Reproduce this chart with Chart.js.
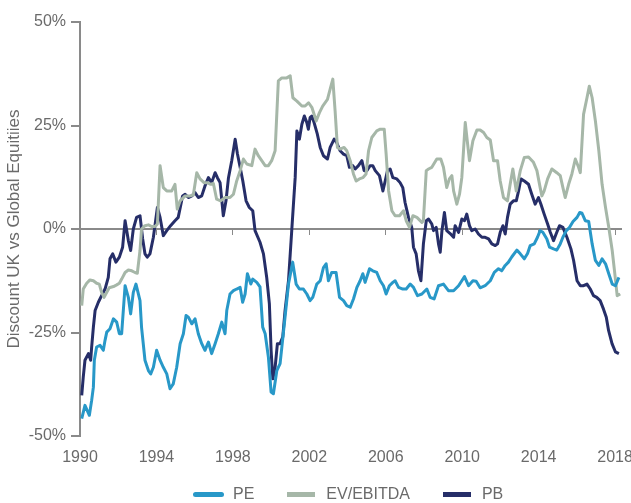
<!DOCTYPE html>
<html>
<head>
<meta charset="utf-8">
<script src="https://cdn.jsdelivr.net/npm/chart.js@4.4.1/dist/chart.umd.min.js"></script>
<style>
  html, body { margin: 0; padding: 0; background: #ffffff; }
  #chart_wrap { width: 631px; height: 503px; position: relative; }
  #chart_legend {
    position: absolute; left: 193px; top: 485px; height: 18px;
    display: flex; align-items: center;
    font-family: 'Liberation Sans', Arial, sans-serif; font-size: 16px; color: #6a6a6a;
  }
  #chart_legend .item { display: flex; align-items: center; margin-right: 33px; }
  #chart_legend .swatch { width: 28px; height: 5px; margin-right: 11px; }
  #chart_legend .swatch.round { width: 31px; margin-right: 9px; border-radius: 3px; }
</style>
</head>
<body>
<div id="chart_wrap">
  <canvas id="valuation_chart_area"></canvas>
  <div id="chart_legend"></div>
</div>
<script>
// Discount of UK vs global equities, [year, %]
const pe_series = [
  [1990.09,-45.8],[1990.26,-42.6],[1990.49,-45.0],[1990.61,-41.4],[1990.7,-38.2],[1990.75,-31.7],[1990.87,-28.5],
  [1991.05,-28.1],[1991.22,-29.3],[1991.31,-26.9],[1991.4,-24.9],[1991.57,-24.1],[1991.75,-21.7],[1991.92,-22.5],
  [1992.06,-25.3],[1992.18,-25.3],[1992.36,-13.7],[1992.53,-16.5],[1992.65,-20.5],[1992.79,-15.3],[1992.93,-13.3],
  [1993.14,-17.3],[1993.22,-23.7],[1993.4,-31.7],[1993.58,-34.2],[1993.7,-35.0],[1993.84,-33.4],[1994.01,-29.3],
  [1994.19,-31.7],[1994.36,-33.4],[1994.54,-35.0],[1994.71,-38.6],[1994.88,-37.4],[1995.06,-33.4],[1995.24,-27.7],
  [1995.41,-25.3],[1995.55,-20.9],[1995.67,-21.3],[1995.85,-22.9],[1996.02,-21.7],[1996.19,-25.3],[1996.37,-27.7],
  [1996.54,-29.3],[1996.72,-27.3],[1996.89,-30.1],[1997.07,-27.7],[1997.24,-25.3],[1997.42,-22.5],[1997.59,-25.3],
  [1997.68,-19.7],[1997.85,-15.7],[1998.03,-14.9],[1998.2,-14.5],[1998.38,-14.1],[1998.51,-17.7],[1998.64,-15.7],
  [1998.76,-10.8],[1998.94,-13.3],[1999.04,-12.1],[1999.25,-12.9],[1999.42,-14.0],[1999.56,-23.7],[1999.69,-25.3],
  [1999.86,-31.0],[2000.0,-39.4],[2000.12,-39.8],[2000.3,-34.2],[2000.47,-32.5],[2000.73,-21.3],[2000.91,-13.3],
  [2001.13,-8.0],[2001.31,-13.3],[2001.48,-14.5],[2001.69,-14.5],[2001.87,-15.7],[2002.04,-17.3],[2002.18,-16.5],
  [2002.39,-13.3],[2002.57,-12.5],[2002.74,-9.3],[2002.88,-8.4],[2003.0,-12.5],[2003.17,-10.5],[2003.4,-10.5],
  [2003.58,-16.5],[2003.79,-17.3],[2003.96,-18.5],[2004.14,-18.9],[2004.31,-16.9],[2004.49,-14.1],[2004.66,-12.5],
  [2004.8,-10.8],[2004.92,-12.9],[2005.15,-9.6],[2005.32,-10.1],[2005.53,-10.5],[2005.71,-12.5],[2005.88,-13.7],
  [2006.02,-15.7],[2006.19,-13.7],[2006.37,-12.9],[2006.49,-12.5],[2006.67,-14.1],[2006.89,-14.5],[2007.07,-14.5],
  [2007.28,-13.3],[2007.45,-14.1],[2007.66,-16.1],[2007.89,-15.7],[2008.15,-14.5],[2008.32,-16.5],[2008.53,-16.9],
  [2008.76,-13.7],[2009.02,-13.3],[2009.28,-14.9],[2009.55,-14.9],[2009.81,-13.7],[2009.98,-12.5],[2010.12,-11.5],
  [2010.33,-13.7],[2010.56,-12.5],[2010.73,-12.6],[2010.94,-14.2],[2011.2,-13.7],[2011.47,-12.5],[2011.68,-10.5],
  [2011.9,-9.6],[2012.07,-10.1],[2012.25,-8.8],[2012.42,-8.0],[2012.6,-6.7],[2012.86,-5.1],[2013.04,-6.0],
  [2013.25,-7.2],[2013.42,-5.9],[2013.56,-4.0],[2013.77,-3.6],[2013.94,-2.0],[2014.08,-0.4],[2014.22,-0.8],
  [2014.43,-2.4],[2014.57,-4.4],[2014.78,-4.8],[2014.95,-5.1],[2015.13,-3.6],[2015.27,-2.0],[2015.45,-0.4],
  [2015.62,0.4],[2015.8,1.8],[2016.01,2.8],[2016.15,4.0],[2016.27,3.8],[2016.44,2.0],[2016.62,1.8],[2016.8,-3.6],
  [2016.97,-7.6],[2017.15,-8.8],[2017.32,-7.2],[2017.5,-8.4],[2017.67,-10.8],[2017.85,-13.3],[2018.02,-13.7],
  [2018.2,-11.7],
];

const ev_ebitda_series = [
  [1990.09,-18.5],[1990.17,-14.5],[1990.35,-13.1],[1990.52,-12.3],[1990.7,-12.5],[1990.87,-13.1],[1991.01,-13.3],
  [1991.13,-15.3],[1991.26,-16.5],[1991.4,-15.3],[1991.53,-14.2],[1991.75,-13.9],[1991.92,-13.5],[1992.06,-13.1],
  [1992.18,-12.1],[1992.36,-10.5],[1992.53,-9.9],[1992.71,-10.1],[1992.88,-10.5],[1993.0,-10.7],[1993.14,-5.2],
  [1993.22,0],[1993.4,0.8],[1993.58,1.0],[1993.75,0.6],[1993.93,0.6],[1994.05,1.2],[1994.19,15.3],[1994.36,10.0],
  [1994.54,9.2],[1994.8,9.2],[1994.97,10.8],[1995.09,4.8],[1995.24,6.8],[1995.5,8.0],[1995.76,8.0],[1995.93,8.2],
  [1996.11,13.6],[1996.28,12.1],[1996.49,11.2],[1996.66,11.2],[1996.84,10.8],[1996.98,11.0],[1997.15,7.2],
  [1997.36,6.8],[1997.59,7.6],[1997.85,7.6],[1998.03,8.4],[1998.2,11.6],[1998.38,14.1],[1998.55,16.9],[1998.73,15.7],
  [1998.99,15.3],[1999.16,19.3],[1999.33,17.7],[1999.51,16.5],[1999.69,15.3],[1999.86,15.3],[2000.03,16.5],
  [2000.21,18.9],[2000.29,26.9],[2000.38,35.8],[2000.56,36.5],[2000.82,36.5],[2001.0,37.0],[2001.14,31.7],
  [2001.35,30.9],[2001.61,29.7],[2001.78,29.7],[2001.96,30.5],[2002.14,29.3],[2002.36,26.1],[2002.53,28.1],
  [2002.7,29.7],[2002.95,31.3],[2003.09,33.8],[2003.23,36.2],[2003.35,28.5],[2003.47,19.7],[2003.61,19.3],
  [2003.82,19.7],[2003.96,18.9],[2004.14,16.5],[2004.31,13.3],[2004.45,11.6],[2004.62,12.1],[2004.8,12.4],
  [2004.97,13.3],[2005.1,18.9],[2005.27,22.1],[2005.53,23.7],[2005.71,24.1],[2005.92,24.1],[2006.02,18.1],
  [2006.15,9.2],[2006.32,4.4],[2006.49,3.2],[2006.72,3.2],[2006.93,4.4],[2007.07,2.0],[2007.24,0.4],[2007.42,3.2],
  [2007.63,2.8],[2007.89,1.6],[2007.97,2.0],[2008.12,14.1],[2008.24,14.5],[2008.41,14.9],[2008.67,16.9],
  [2008.88,16.9],[2009.02,14.9],[2009.19,10.0],[2009.33,12.1],[2009.46,12.9],[2009.55,9.2],[2009.72,6.0],
  [2009.86,8.4],[2009.98,12.4],[2010.16,25.7],[2010.38,16.5],[2010.56,21.3],[2010.77,23.9],[2010.94,23.9],
  [2011.12,23.3],[2011.29,22.1],[2011.47,21.5],[2011.64,16.5],[2011.85,16.5],[2011.99,11.6],[2012.16,7.6],
  [2012.37,6.8],[2012.51,10.8],[2012.65,14.5],[2012.83,9.2],[2013.04,14.1],[2013.25,17.3],[2013.47,17.4],
  [2013.73,16.1],[2013.91,14.1],[2014.08,10.0],[2014.17,8.0],[2014.29,9.2],[2014.47,12.1],[2014.69,14.5],
  [2014.95,13.6],[2015.13,12.9],[2015.27,10.0],[2015.39,7.6],[2015.57,10.8],[2015.74,13.3],[2015.92,16.9],
  [2016.09,14.9],[2016.18,13.6],[2016.35,27.7],[2016.53,31.7],[2016.65,34.5],[2016.8,31.7],[2016.97,26.1],
  [2017.15,18.9],[2017.32,10.8],[2017.5,5.2],[2017.67,0.4],[2017.85,-5.2],[2017.97,-10.1],[2018.11,-16.1],
  [2018.27,-15.7],
];

const pb_series = [
  [1990.09,-40.2],[1990.17,-35.8],[1990.26,-31.7],[1990.44,-30.1],[1990.56,-31.7],[1990.61,-28.5],[1990.7,-23.7],
  [1990.79,-19.7],[1990.96,-17.7],[1991.13,-16.1],[1991.31,-14.5],[1991.48,-11.7],[1991.57,-7.2],[1991.71,-6.0],
  [1991.88,-8.0],[1992.06,-6.8],[1992.23,-4.4],[1992.36,2.0],[1992.53,-2.8],[1992.65,-5.2],[1992.79,0],[1992.96,2.8],
  [1993.14,3.2],[1993.28,-2.4],[1993.4,-6.0],[1993.52,-6.8],[1993.66,-6.0],[1993.84,-2.0],[1994.05,5.2],[1994.19,2.8],
  [1994.36,-1.6],[1994.54,-0.4],[1994.74,0.8],[1994.97,2.0],[1995.14,2.8],[1995.37,8.0],[1995.5,8.4],[1995.67,7.6],
  [1995.85,8.0],[1996.02,8.8],[1996.19,7.6],[1996.37,8.0],[1996.54,10.4],[1996.72,12.4],[1996.89,11.2],[1997.07,13.6],
  [1997.19,12.4],[1997.33,11.2],[1997.5,3.2],[1997.64,6.8],[1997.77,12.4],[1997.94,16.5],[1998.12,21.7],[1998.24,18.1],
  [1998.38,14.9],[1998.52,11.6],[1998.69,6.8],[1998.86,5.2],[1999.04,4.4],[1999.16,-0.4],[1999.42,-3.2],[1999.6,-6.0],
  [1999.77,-11.7],[1999.91,-18.1],[2000.0,-29.3],[2000.09,-36.2],[2000.21,-33.4],[2000.33,-27.7],[2000.47,-27.7],
  [2000.61,-26.1],[2000.73,-19.7],[2000.91,-12.5],[2001.08,-0.4],[2001.26,12.4],[2001.35,23.7],[2001.48,21.7],
  [2001.61,25.3],[2001.74,27.3],[2001.87,25.7],[2001.95,24.1],[2002.04,26.9],[2002.13,27.3],[2002.25,25.7],
  [2002.42,22.9],[2002.57,19.7],[2002.74,17.7],[2002.95,16.9],[2003.09,19.7],[2003.3,21.7],[2003.43,20.9],
  [2003.61,18.9],[2003.79,18.1],[2003.96,17.7],[2004.1,14.9],[2004.27,15.3],[2004.4,14.5],[2004.57,15.3],
  [2004.75,16.5],[2004.87,14.1],[2005.01,14.1],[2005.18,15.3],[2005.32,15.3],[2005.45,14.1],[2005.67,12.9],
  [2005.85,9.2],[2005.97,11.6],[2006.09,14.1],[2006.23,14.5],[2006.37,12.4],[2006.58,12.1],[2006.75,11.2],
  [2006.89,10.0],[2007.01,6.4],[2007.19,2.8],[2007.36,0.4],[2007.45,-4.4],[2007.59,-6.0],[2007.71,-10.1],
  [2007.84,-12.5],[2007.97,-3.6],[2008.12,2.0],[2008.24,2.4],[2008.41,1.2],[2008.5,-0.4],[2008.64,0.4],[2008.76,-3.6],
  [2008.85,-5.6],[2008.94,-0.4],[2009.07,4.0],[2009.19,-0.4],[2009.37,-1.1],[2009.55,-2.0],[2009.63,0.8],
  [2009.81,-0.8],[2009.98,2.4],[2010.12,2.0],[2010.24,3.6],[2010.38,0.8],[2010.5,-0.4],[2010.68,0],[2010.85,-1.2],
  [2011.03,-2.0],[2011.2,-2.0],[2011.38,-2.4],[2011.55,-3.6],[2011.73,-4.0],[2011.85,-3.6],[2011.99,-0.8],
  [2012.13,0.8],[2012.25,-1.2],[2012.37,2.8],[2012.51,6.0],[2012.68,6.8],[2012.83,6.8],[2012.95,9.2],[2013.07,12.1],
  [2013.25,11.6],[2013.47,10.8],[2013.64,8.4],[2013.82,6.0],[2013.99,7.6],[2014.12,6.0],[2014.29,3.6],[2014.47,1.2],
  [2014.61,-0.8],[2014.78,-2.8],[2014.95,-0.8],[2015.09,0.8],[2015.27,0.4],[2015.48,-2.0],[2015.69,-4.8],
  [2015.83,-7.6],[2016.01,-12.5],[2016.18,-13.7],[2016.35,-13.7],[2016.53,-13.3],[2016.7,-14.5],[2016.87,-16.1],
  [2017.04,-16.5],[2017.22,-17.3],[2017.39,-19.3],[2017.54,-21.3],[2017.66,-24.5],[2017.84,-27.7],[2018.02,-29.7],
  [2018.2,-30.1],
];

const year_ticks = [1990, 1994, 1998, 2002, 2006, 2010, 2014, 2018];
const pct_ticks = [-50, -25, 0, 25, 50];

const PE_COLOR = "#2898c8";
const EV_COLOR = "#a6b7a8";
const PB_COLOR = "#262e68";
const AXIS_COLOR = "#8a8a8a";
const TEXT_COLOR = "#6a6a6a";
const FONT = { family: "'Liberation Sans', Arial, sans-serif", size: 16 };

const toPoints = (rows) => rows.map((r) => ({ x: r[0], y: r[1] }));
const setTicks = (values) => (scale) => {
  scale.ticks = values.map((v) => ({ value: v }));
};

// Valuation discount chart
const valuation_chart_area = document
  .getElementById("valuation_chart_area")
  .getContext("2d");
const valuation_chart = new Chart(valuation_chart_area, {
  type: "line",
  data: {
    datasets: [
      { label: "PE", data: toPoints(pe_series), borderColor: PE_COLOR, backgroundColor: PE_COLOR },
      { label: "EV/EBITDA", data: toPoints(ev_ebitda_series), borderColor: EV_COLOR, backgroundColor: EV_COLOR },
      { label: "PB", data: toPoints(pb_series), borderColor: PB_COLOR, backgroundColor: PB_COLOR },
    ],
  },
  options: {
    responsive: true,
    maintainAspectRatio: false,
    animation: false,
    elements: {
      line: { borderWidth: 3, tension: 0, borderJoinStyle: "round" },
      point: { radius: 0, hoverRadius: 0 },
    },
    layout: { autoPadding: false, padding: { top: 22, right: 10, bottom: 37, left: 0 } },
    plugins: {
      tooltip: { enabled: false },
      legend: { display: false },
    },
    scales: {
      x: {
        type: "linear",
        min: 1990,
        max: 2018.31,
        afterBuildTicks: setTicks(year_ticks),
        afterFit: (scale) => {
          scale.height = 30;
          scale.paddingLeft = 0;
          scale.paddingRight = 0;
        },
        grid: { display: false, drawTicks: false },
        border: { display: false },
        ticks: {
          color: TEXT_COLOR,
          font: FONT,
          padding: 12,
          maxRotation: 0,
          autoSkip: false,
          callback: (v) => String(v),
        },
      },
      // zero line with small year ticks
      xZero: {
        type: "linear",
        min: 1990,
        max: 2018.31,
        position: { y: 0 },
        afterBuildTicks: setTicks(year_ticks),
        afterFit: (scale) => {
          scale.paddingLeft = 0;
          scale.paddingRight = 0;
        },
        ticks: { display: false },
        grid: { drawOnChartArea: false, tickLength: 5, color: AXIS_COLOR, lineWidth: 1 },
        border: { color: AXIS_COLOR, width: 2 },
      },
      y: {
        min: -50,
        max: 50,
        afterBuildTicks: setTicks(pct_ticks),
        afterFit: (scale) => {
          scale.width = 80;
          scale.paddingTop = 0;
          scale.paddingBottom = 0;
        },
        grid: { drawOnChartArea: false, tickLength: 9, color: AXIS_COLOR, lineWidth: 2 },
        border: { color: AXIS_COLOR, width: 2 },
        ticks: {
          color: TEXT_COLOR,
          font: FONT,
          padding: 5,
          callback: (v) => v + "%",
        },
        title: {
          display: true,
          text: "Discount UK vs Global Equitiies",
          color: TEXT_COLOR,
          font: { family: FONT.family, size: 17 },
          padding: { top: 4, bottom: 0 },
        },
      },
    },
  },
});

// Legend drawn as html from the chart's own datasets
const chart_legend = document.getElementById("chart_legend");
valuation_chart.data.datasets.forEach((ds, i) => {
  const item = document.createElement("div");
  item.className = "item";
  const swatch = document.createElement("span");
  swatch.className = i === 0 ? "swatch round" : "swatch";
  swatch.style.background = ds.borderColor;
  const text = document.createElement("span");
  text.textContent = ds.label;
  item.appendChild(swatch);
  item.appendChild(text);
  chart_legend.appendChild(item);
});
// End of Valuation discount chart
</script>
</body>
</html>
